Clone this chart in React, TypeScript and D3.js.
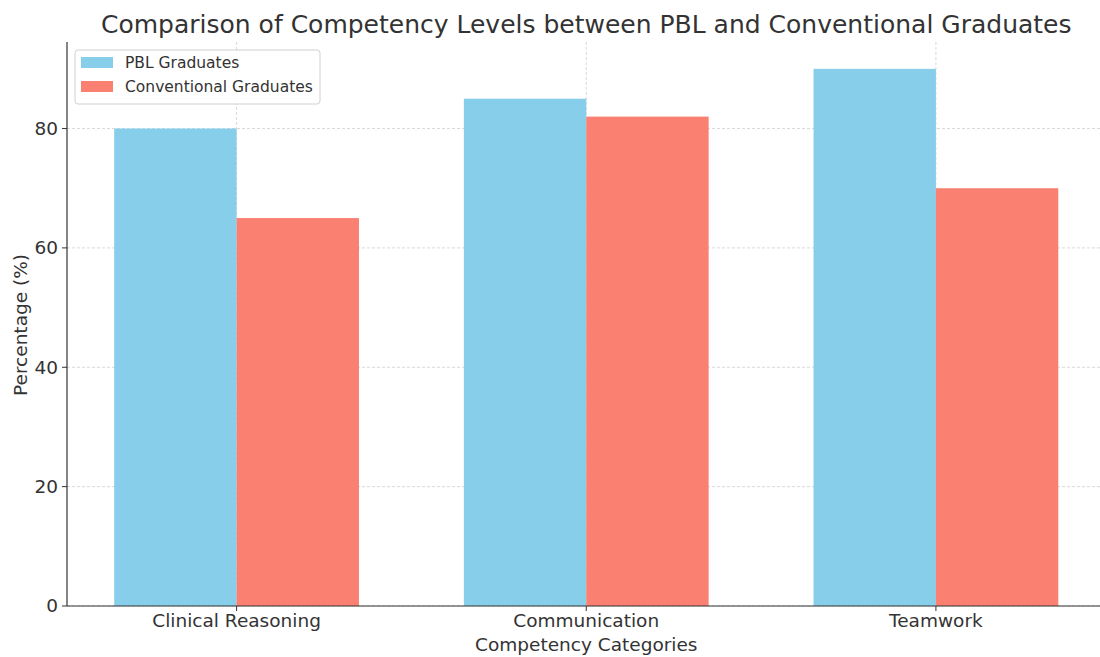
import React from "react";
import * as d3 from "d3";

const categories = ["Clinical Reasoning", "Communication", "Teamwork"];
const seriesNames = ["PBL Graduates", "Conventional Graduates"];
const pblValues = [80, 85, 90];
const conventionalValues = [65, 82, 70];
const yTicks = [0, 20, 40, 60, 80];
const colors = ["#87CEEB", "#FA8072"];

const W = 1100;
const H = 657;
const left = 67;
const bottom = 606;
const top = 42;

export default function App() {
  const idx = categories.map((_, i) => i);
  const x = d3.scaleLinear().domain([-0.485, 2.485]).range([left, 1105.5]);
  const y = d3.scaleLinear().domain([0, 94.5]).range([bottom, top]);
  const bw = x(0.35) - x(0);
  const series = [pblValues, conventionalValues];
  const font = "DejaVu Sans, sans-serif";
  const textColor = "#333";

  return (
    <svg width={W} height={H} style={{ position: "absolute", left: 0, top: 0, background: "#fff" }} fontFamily={font}>
      {/* grid */}
      {yTicks.map((t) => (
        <line key={"gy" + t} x1={left} x2={W} y1={y(t)} y2={y(t)} stroke="#cfcfcf" strokeWidth={0.8} strokeDasharray="3,2" />
      ))}
      {idx.map((i) => (
        <line key={"gx" + i} x1={x(i)} x2={x(i)} y1={top} y2={bottom} stroke="#cfcfcf" strokeWidth={0.8} strokeDasharray="3,2" />
      ))}
      {/* bars */}
      {series.map((vals, s) =>
        vals.map((v, i) => (
          <rect
            key={`b${s}-${i}`}
            x={s === 0 ? x(i) - bw : x(i)}
            y={y(v)}
            width={bw}
            height={y(0) - y(v)}
            fill={colors[s]}
          />
        ))
      )}
      {/* axes */}
      <line x1={left} x2={left} y1={top} y2={bottom} stroke="#333" strokeWidth={1.2} />
      <line x1={left} x2={W} y1={bottom} y2={bottom} stroke="#333" strokeWidth={1.2} />
      {yTicks.map((t) => (
        <g key={"ty" + t}>
          <line x1={left - 5} x2={left} y1={y(t)} y2={y(t)} stroke="#333" strokeWidth={1} />
          <text x={left - 9} y={y(t)} dy="0.35em" textAnchor="end" fontSize={18.5} fill={textColor}>
            {t}
          </text>
        </g>
      ))}
      {idx.map((i) => (
        <g key={"tx" + i}>
          <line x1={x(i)} x2={x(i)} y1={bottom} y2={bottom + 5} stroke="#333" strokeWidth={1} />
          <text x={x(i)} y={bottom + 21} textAnchor="middle" fontSize={18.5} fill={textColor}>
            {categories[i]}
          </text>
        </g>
      ))}
      <text x={x(1)} y={651} textAnchor="middle" fontSize={18.5} fill={textColor}>
        Competency Categories
      </text>
      <text transform={`translate(27,${325}) rotate(-90)`} textAnchor="middle" fontSize={18.5} fill={textColor}>
        Percentage (%)
      </text>
      <text x={x(1)} y={33} textAnchor="middle" fontSize={25} fill={textColor}>
        Comparison of Competency Levels between PBL and Conventional Graduates
      </text>
      {/* legend */}
      <g>
        <rect x={75} y={50} width={245} height={54} rx={3} fill="#fff" fillOpacity={0.85} stroke="#d0d0d0" strokeWidth={1} />
        {seriesNames.map((n, s) => (
          <g key={"lg" + s}>
            <rect x={81} y={57 + s * 24} width={32} height={11} fill={colors[s]} />
            <text x={125} y={63 + s * 24} dy="0.35em" fontSize={15.5} fill={textColor}>
              {n}
            </text>
          </g>
        ))}
      </g>
    </svg>
  );
}
